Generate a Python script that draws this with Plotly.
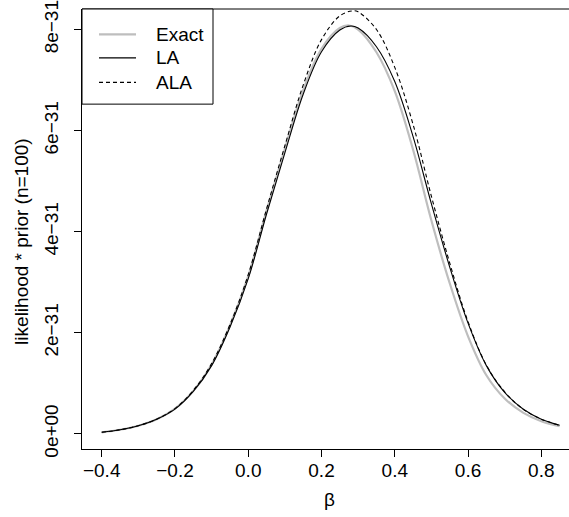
import plotly.graph_objects as go

# beta grid and curve values (units of 1e-31)
beta_exact = [-0.40, -0.35, -0.30, -0.25, -0.20, -0.15, -0.10, -0.05, 0.00, 0.05, 0.10, 0.15, 0.20,
              0.25, 0.275, 0.30, 0.35, 0.40, 0.45, 0.50, 0.55, 0.60, 0.65, 0.70, 0.75, 0.80, 0.85]
exact_vals = [0.03, 0.08, 0.16, 0.29, 0.50, 0.85, 1.37, 2.14, 3.12, 4.42, 5.64, 6.80, 7.62,
              8.03, 8.08, 8.00, 7.55, 6.78, 5.62, 4.22, 2.98, 1.93, 1.16, 0.70, 0.42, 0.25, 0.15]

beta_la = [-0.40, -0.35, -0.30, -0.25, -0.20, -0.15, -0.10, -0.05, 0.00, 0.05, 0.10, 0.15, 0.20,
           0.25, 0.28, 0.30, 0.35, 0.40, 0.45, 0.50, 0.55, 0.60, 0.65, 0.70, 0.75, 0.80, 0.85]
la_vals = [0.03, 0.08, 0.16, 0.29, 0.49, 0.84, 1.35, 2.11, 3.07, 4.35, 5.56, 6.72, 7.56,
           7.99, 8.07, 8.03, 7.66, 6.97, 5.88, 4.55, 3.30, 2.19, 1.35, 0.82, 0.49, 0.29, 0.17]

beta_ala = [-0.40, -0.35, -0.30, -0.25, -0.20, -0.15, -0.10, -0.05, 0.00, 0.05, 0.10, 0.15, 0.20,
            0.25, 0.285, 0.30, 0.35, 0.40, 0.45, 0.50, 0.55, 0.60, 0.65, 0.70, 0.75, 0.80, 0.85]
ala_vals = [0.03, 0.08, 0.16, 0.29, 0.50, 0.86, 1.39, 2.16, 3.15, 4.45, 5.70, 6.90, 7.80,
            8.27, 8.37, 8.35, 8.00, 7.25, 6.12, 4.70, 3.38, 2.22, 1.36, 0.83, 0.49, 0.29, 0.17]

SCALE = 1e-31
x_ticks = [-0.4, -0.2, 0.0, 0.2, 0.4, 0.6, 0.8]
x_ticktext = ["\u22120.4", "\u22120.2", "0.0", "0.2", "0.4", "0.6", "0.8"]
y_ticks = [0, 2, 4, 6, 8]
y_ticktext = ["0e+00", "2e\u221231", "4e\u221231", "6e\u221231", "8e\u221231"]
legend_names = ["Exact", "LA", "ALA"]

FONT = "Liberation Sans, Arial, Helvetica, sans-serif"
FS = 19

W, H = 569, 517
L, R, T, B = 82, 0, 5, 68
PW, PH = W - L - R, H - T - B


def px(xp):
    return (xp - L) / PW


def py(yp):
    return (H - B - yp) / PH


fig = go.Figure()
fig.add_trace(go.Scatter(x=beta_exact, y=[v * SCALE for v in exact_vals], mode="lines",
                         line=dict(color="#BEBEBE", width=2.2, shape="spline"),
                         name=legend_names[0], showlegend=False))
fig.add_trace(go.Scatter(x=beta_la, y=[v * SCALE for v in la_vals], mode="lines",
                         line=dict(color="black", width=1.1, shape="spline"),
                         name=legend_names[1], showlegend=False))
fig.add_trace(go.Scatter(x=beta_ala, y=[v * SCALE for v in ala_vals], mode="lines",
                         line=dict(color="black", width=1.1, dash="4px,3px", shape="spline"),
                         name=legend_names[2], showlegend=False))

shapes = [
    # top border of box
    dict(type="line", xref="paper", yref="paper", x0=0, x1=1, y0=1, y1=1,
         line=dict(color="black", width=1)),
    # legend box
    dict(type="rect", xref="paper", yref="paper", x0=px(82), x1=px(213), y0=py(101), y1=py(5),
         line=dict(color="black", width=1), fillcolor="white", layer="above"),
]
leg_y = [30.7, 54.3, 79.0]
leg_styles = [dict(color="#BEBEBE", width=2.2), dict(color="black", width=1.1),
              dict(color="black", width=1.1, dash="4px,3px")]
annotations = []
for name, yy, st in zip(legend_names, leg_y, leg_styles):
    shapes.append(dict(type="line", xref="paper", yref="paper", x0=px(99), x1=px(136),
                       y0=py(yy), y1=py(yy), line=st, layer="above"))
    annotations.append(dict(text=name, xref="paper", yref="paper", x=px(154), y=py(yy),
                            xanchor="left", yanchor="middle", showarrow=False,
                            font=dict(family=FONT, size=FS, color="black")))

annotations.append(dict(text="\u03b2", xref="paper", yref="paper", x=px(329), y=py(500),
                        xanchor="center", yanchor="middle", showarrow=False,
                        font=dict(family=FONT, size=FS, color="black")))
annotations.append(dict(text="likelihood * prior (n=100)", xref="paper", yref="paper",
                        x=px(22), y=py(240), xanchor="center", yanchor="middle",
                        textangle=-90, showarrow=False,
                        font=dict(family=FONT, size=FS, color="black")))

fig.update_layout(
    width=W, height=H,
    margin=dict(l=L, r=R, t=T, b=B, pad=0),
    paper_bgcolor="white", plot_bgcolor="white",
    font=dict(family=FONT, size=FS, color="black"),
    shapes=shapes, annotations=annotations,
    showlegend=False,
)
fig.update_xaxes(range=[-0.4538, 0.8756], showgrid=False, zeroline=False,
                 showline=True, linecolor="black", linewidth=1, mirror=False,
                 ticks="outside", ticklen=7, tickwidth=1, tickcolor="black",
                 tickvals=x_ticks, ticktext=x_ticktext, ticklabelstandoff=-3,
                 ticklabeloverflow="allow",
                 tickfont=dict(family=FONT, size=FS, color="black"))
fig.update_yaxes(range=[-0.30 * SCALE, 8.406 * SCALE], showgrid=False, zeroline=False,
                 showline=True, linecolor="black", linewidth=1, mirror=False,
                 ticks="outside", ticklen=7, tickwidth=1, tickcolor="black",
                 tickvals=[v * SCALE for v in y_ticks], ticktext=y_ticktext, tickangle=-90,
                 ticklabelstandoff=8, ticklabeloverflow="allow",
                 tickfont=dict(family=FONT, size=FS, color="black"))

fig.write_html("out.html", config={"displayModeBar": False},
               post_script="document.body.style.margin='0';document.body.style.padding='0';")
